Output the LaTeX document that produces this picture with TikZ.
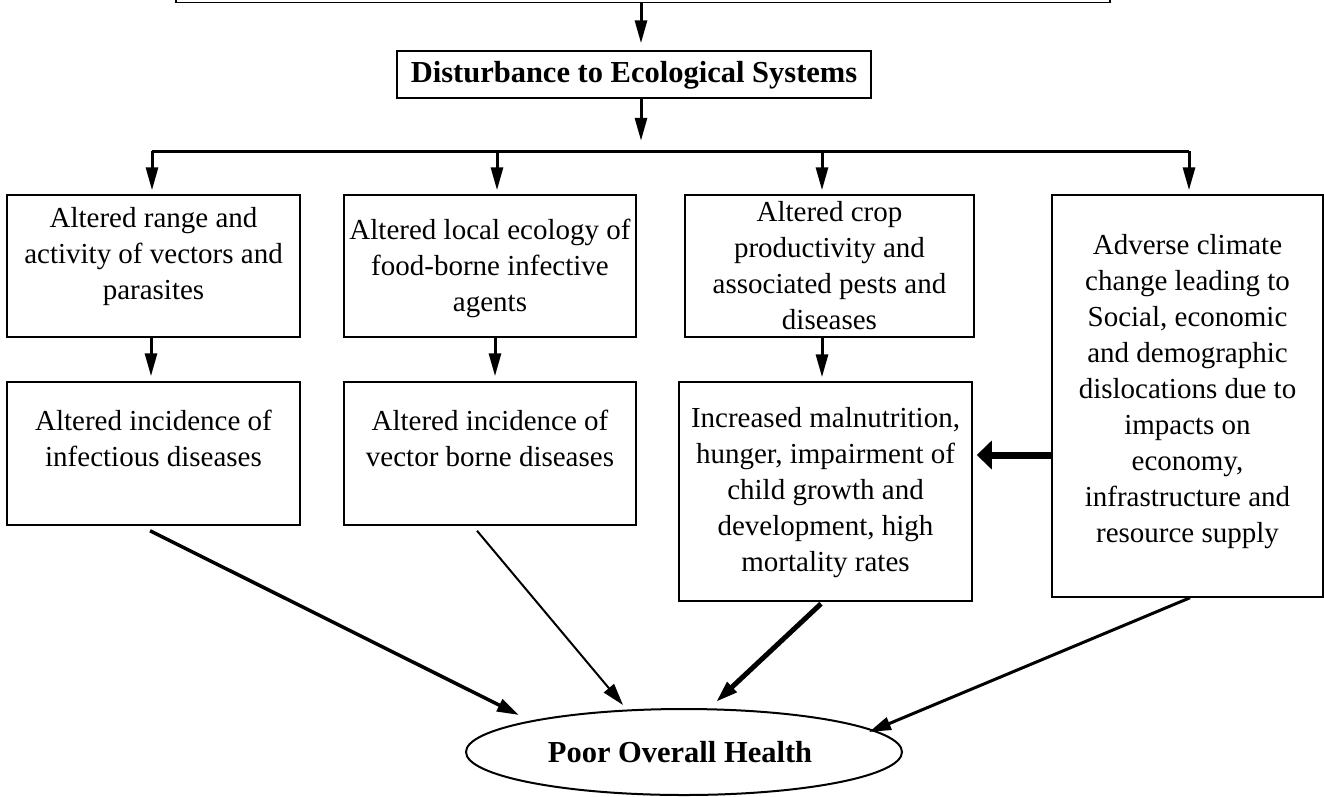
\documentclass[tikz,border=0pt]{standalone}
\usepackage{fontspec}
\setmainfont{Liberation Serif}
\usetikzlibrary{arrows.meta,shapes.geometric}
\begin{document}
\begin{tikzpicture}[x=1pt,y=-1pt,
  box/.style={draw, line width=1.5pt, rectangle, inner sep=0pt},
  txt/.style={align=center, inner sep=0pt, font=\fontsize{29}{36}\selectfont},
  bold/.style={align=center, inner sep=0pt, font=\fontsize{30.5}{36}\selectfont\bfseries},
  arr/.style={-{Triangle[length=23pt,width=12pt]}, line width=3pt},
  harr/.style={-{Triangle[length=15pt,width=28pt]}, line width=7pt},
  darr/.style={-{Triangle[length=22pt,width=13pt]}},
  hline/.style={line width=3pt}]
\useasboundingbox (0,0) rectangle (1325,796);
\clip (0,0) rectangle (1325,796);

% boxes
\node[box, minimum width=934pt, minimum height=60pt, anchor=south] (top) at (643,3) {};
\node[box, minimum width=474pt, minimum height=47pt] (dist) at (634,74.5) {};
\node[bold] (tdist) at (634,75) {Disturbance to Ecological Systems};

\node[box, minimum width=293pt, minimum height=142pt] (b1) at (153.5,266) {};
\node[box, minimum width=292pt, minimum height=142pt] (b2) at (490,266) {};
\node[box, minimum width=289pt, minimum height=142pt] (b3) at (829.5,266) {};
\node[box, minimum width=271pt, minimum height=402pt] (b4) at (1187.5,396) {};
\node[box, minimum width=293pt, minimum height=143pt] (b1b) at (153.5,453.5) {};
\node[box, minimum width=292pt, minimum height=143pt] (b2b) at (490,453.5) {};
\node[box, minimum width=293pt, minimum height=219pt] (b3b) at (825.5,491.5) {};
\node[draw, ellipse, line width=2pt, inner sep=0pt, minimum width=436pt, minimum height=86pt] (ell) at (684,752) {};

% texts
\node[txt] (t1) at (153.5,257) {Altered range and\\activity of vectors and\\parasites};
\node[txt] (t2) at (490,268) {Altered local ecology of\\food-borne infective\\agents};
\node[txt] (t3) at (829.5,266) {Altered crop\\productivity and\\associated pests and\\diseases};
\node[txt] (t4) at (1187.5,392) {Adverse climate\\change leading to\\Social, economic\\and demographic\\dislocations due to\\impacts on\\economy,\\infrastructure and\\resource supply};
\node[txt] (t1b) at (153.5,438) {Altered incidence of\\infectious diseases};
\node[txt] (t2b) at (490,438) {Altered incidence of\\vector borne diseases};
\node[txt] (t3b) at (825.5,493) {Increased malnutrition,\\hunger, impairment of\\child growth and\\development, high\\mortality rates};
\node[bold] (tell) at (680,752) {Poor Overall Health};

% top arrows
\draw[arr] ([xshift=-2pt]top.south) -- ([xshift=7pt,yshift=7pt]dist.north);
\draw[arr] ([xshift=7pt]dist.south) -- ++(0,42);
\coordinate (j1) at (152,151);
\coordinate (j2) at (497,151);
\coordinate (j3) at (822,151);
\coordinate (j4) at (1189,151);
\draw[hline] (j1) -- (j4);
\draw[arr, shorten >=4pt] (j1) -- (j1 |- b1.north);
\draw[arr, shorten >=4pt] (j2) -- (j2 |- b2.north);
\draw[arr, shorten >=4pt] (j3) -- (j3 |- b3.north);
\draw[arr, shorten >=4pt] (j4) -- (j4 |- b4.north);

% between rows
\draw[arr, shorten >=5pt] ([xshift=-2.5pt]b1.south) -- ([xshift=-2.5pt]b1b.north);
\draw[arr, shorten >=5pt] ([xshift=5pt]b2.south) -- ([xshift=5pt]b2b.north);
\draw[arr, shorten >=4pt] ([xshift=-7.5pt]b3.south) -- ([xshift=-3.5pt]b3b.north);

% horizontal thick arrow
\draw[harr, shorten >=4pt] ([yshift=-59pt]b4.west) -- ([yshift=-59pt]b4.west -| b3b.east);

% diagonals to ellipse
\coordinate (s1) at ([shift={(-3.5pt,-5pt)}]b1b.south);
\coordinate (s2) at ([shift={(-13pt,-5pt)}]b2b.south);
\coordinate (s3) at ([shift={(-4.5pt,-2pt)}]b3b.south);
\coordinate (s4) at ([shift={(2.5pt,0pt)}]b4.south);
\coordinate (e1) at ([shift={(-165pt,37pt)}]ell.center);
\coordinate (e2) at ([shift={(-61pt,47pt)}]ell.center);
\coordinate (e3) at ([shift={(32pt,50pt)}]ell.center);
\coordinate (e4) at ([shift={(185pt,20pt)}]ell.center);
\draw[darr, line width=3.5pt] (s1) -- (e1);
\draw[darr, line width=2pt] (s2) -- (e2);
\draw[darr, line width=5pt] (s3) -- (e3);
\draw[darr, line width=3pt] (s4) -- (e4);
\end{tikzpicture}
\end{document}
